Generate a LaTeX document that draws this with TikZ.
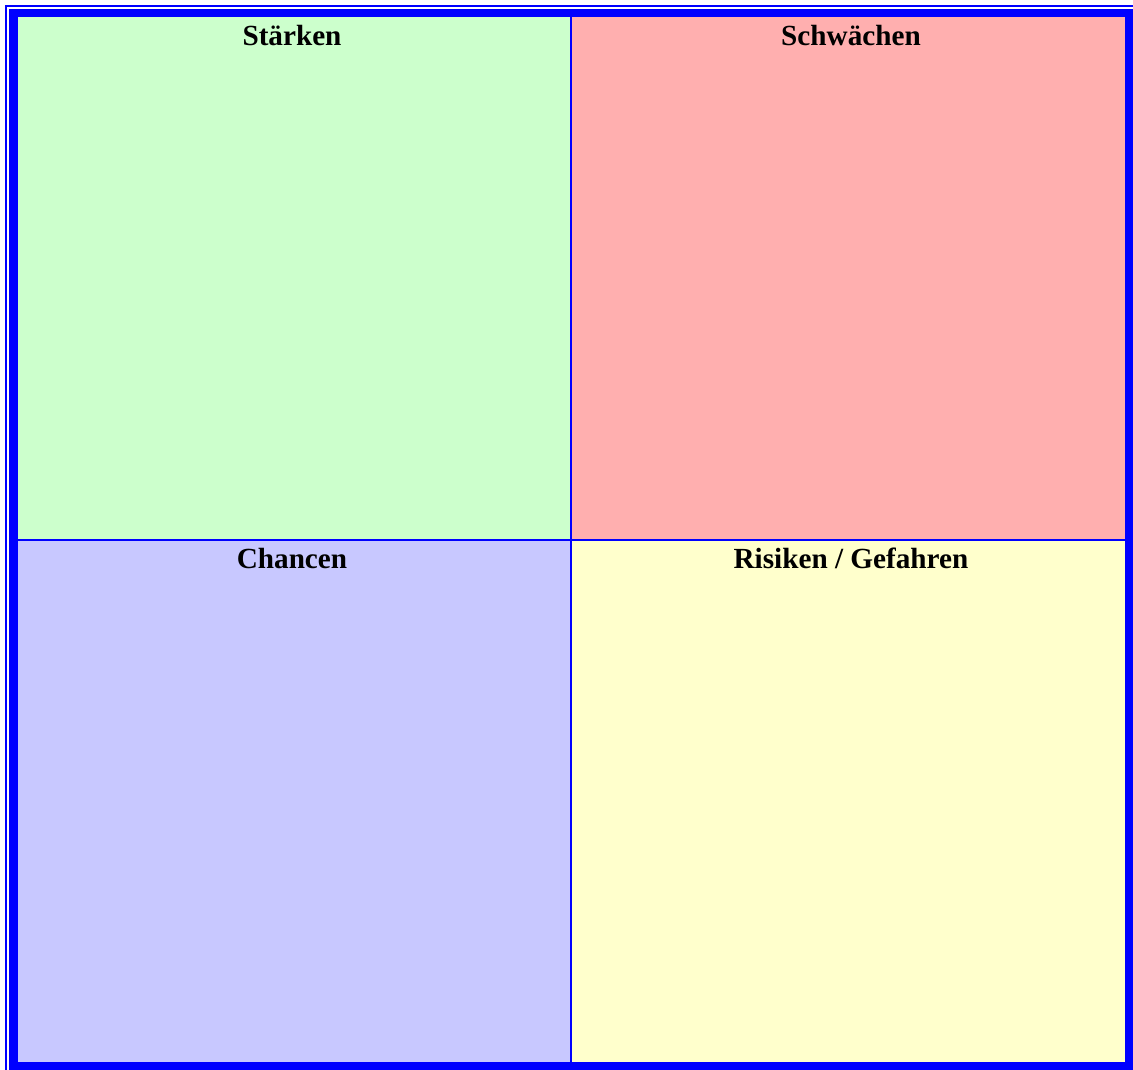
\documentclass[tikz,border=0pt]{standalone}
\usepackage{fontspec}
\setmainfont{Liberation Serif}
\definecolor{frameblue}{RGB}{0,0,255}
\definecolor{cgreen}{RGB}{204,255,204}
\definecolor{cpink}{RGB}{255,175,175}
\definecolor{clav}{RGB}{200,200,255}
\definecolor{cyellow}{RGB}{255,255,204}
\begin{document}
\begin{tikzpicture}[x=1pt,y=-1pt,
  cell/.style={inner sep=0pt,outer sep=0pt,anchor=north west},
  head/.style={anchor=base,font=\bfseries\fontsize{29.2}{33}\selectfont,inner sep=0pt}]
\useasboundingbox (0,0) rectangle (1133,1070);
\fill[white] (0,0) rectangle (1133,1070);
% thin outer line
\fill[frameblue] (5,5) rectangle (7,1070);
\fill[frameblue] (5,5) rectangle (1133,7);
% thick frame
\fill[frameblue] (9,9) rectangle (1133,1070);
% cells
\node[cell,fill=cgreen,minimum width=552pt,minimum height=522pt] (s) at (18,17) {};
\node[cell,fill=cpink,minimum width=553pt,minimum height=522pt] (w) at (572,17) {};
\node[cell,fill=clav,minimum width=552pt,minimum height=521pt] (o) at (18,541) {};
\node[cell,fill=cyellow,minimum width=553pt,minimum height=521pt] (t) at (572,541) {};
% headings
\node[head] (sl) at (292,45.5) {Stärken};
\node[head] (wl) at (851,45.5) {Schwächen};
\node[head] (ol) at (292,568.5) {Chancen};
\node[head] (tl) at (851,568.5) {Risiken / Gefahren};
\end{tikzpicture}
\end{document}
